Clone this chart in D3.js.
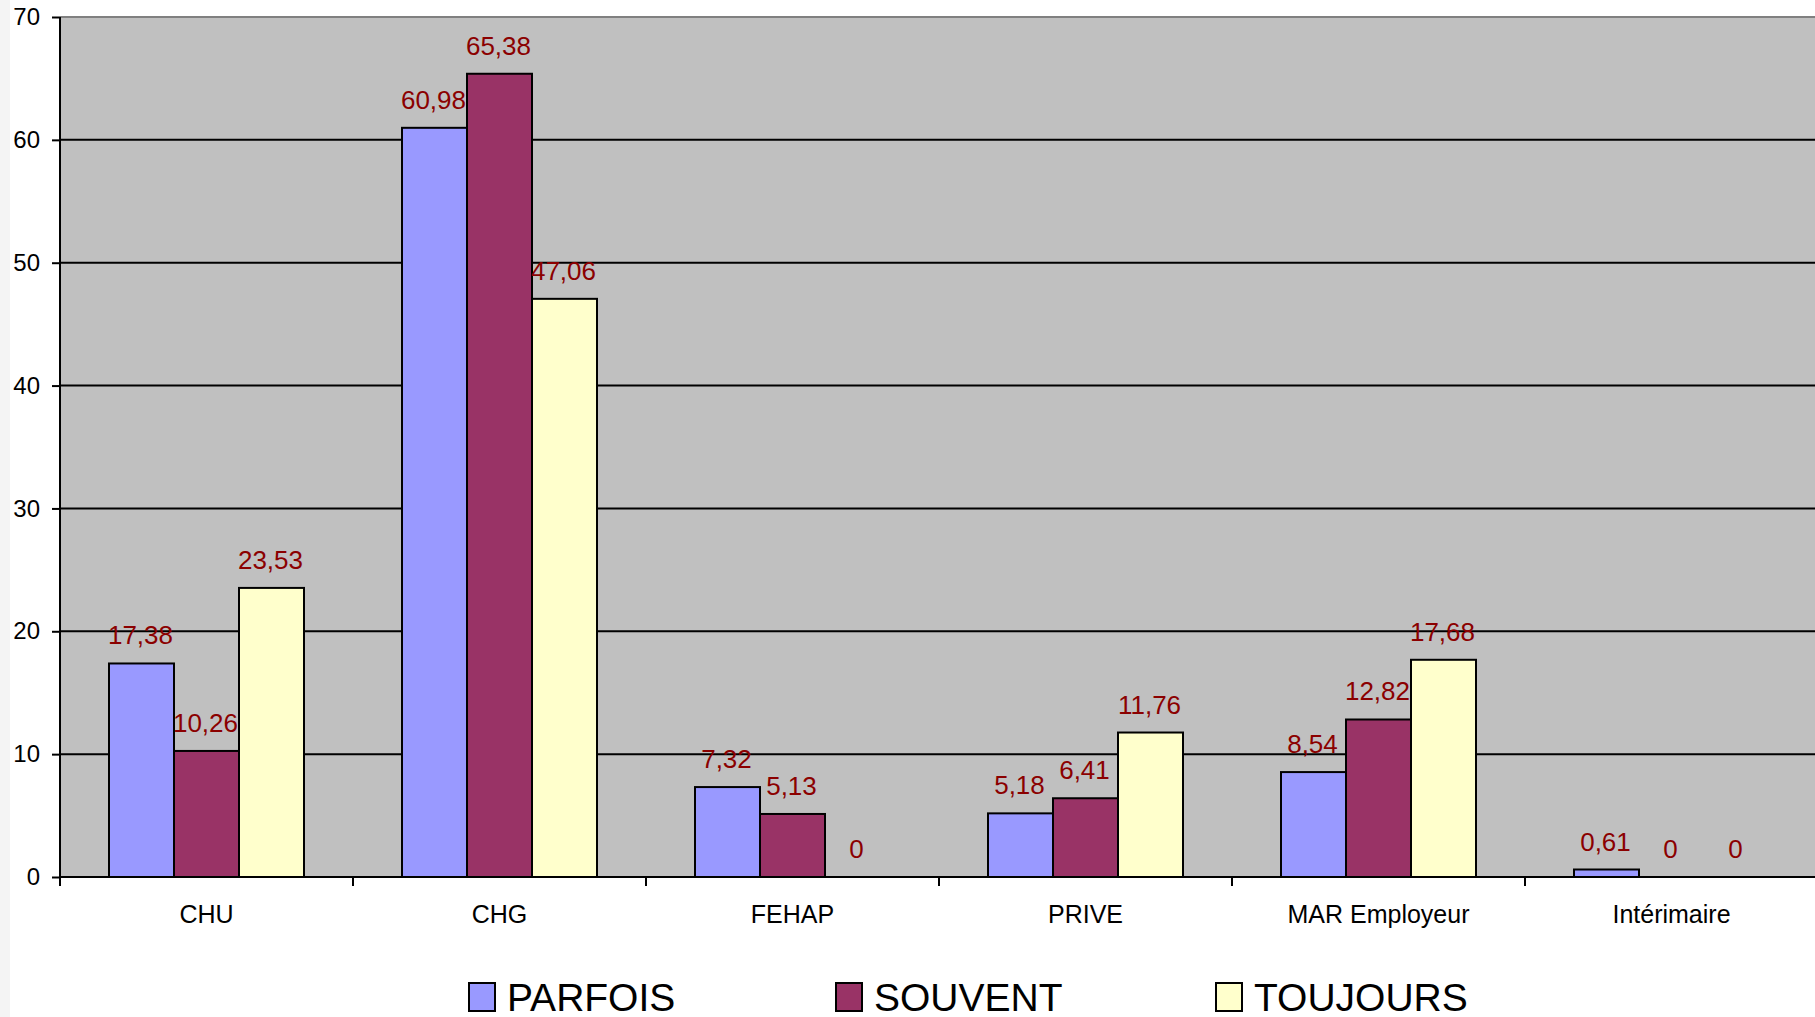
<!DOCTYPE html>
<html>
<head>
<meta charset="utf-8">
<script src="https://cdn.jsdelivr.net/npm/d3@7"></script>
<style>
  body { margin: 0; background: #fff; }
  svg { display: block; font-family: Arial, "Liberation Sans", sans-serif; }
</style>
</head>
<body>
<div id="chart"></div>
<script>
// categories and series
const categories = ["CHU", "CHG", "FEHAP", "PRIVE", "MAR Employeur", "Intérimaire"];
const seriesNames = ["PARFOIS", "SOUVENT", "TOUJOURS"];
const parfois = [17.38, 60.98, 7.32, 5.18, 8.54, 0.61];
const souvent = [10.26, 65.38, 5.13, 6.41, 12.82, 0];
const toujours = [23.53, 47.06, 0, 11.76, 17.68, 0];
const yTicks = [0, 10, 20, 30, 40, 50, 60, 70];
const colors = ["#9999FF", "#993366", "#FFFFCC"];

const svgWidth = 1815;
const svgHeight = 1017;
const margin = { top: 17, left: 60, bottom: 140 };
const plotRight = 1818;
const y0 = svgHeight - margin.bottom; // 877

const svg = d3.select("#chart")
  .append("svg")
  .attr("width", svgWidth)
  .attr("height", svgHeight);

// faint strip on the left edge
svg.append("rect").attr("x", 0).attr("y", 0).attr("width", 10).attr("height", svgHeight).attr("fill", "#f4f4f4");

const x = d3.scaleBand()
  .domain(categories)
  .range([margin.left, plotRight])
  .padding(0);

const x1 = d3.scaleBand()
  .domain(seriesNames)
  .range([49, x.bandwidth() - 49])
  .padding(0);

const y = d3.scaleLinear()
  .domain([0, 70])
  .range([y0, margin.top]);

// plot background
svg.append("rect")
  .attr("x", margin.left)
  .attr("y", margin.top)
  .attr("width", plotRight - margin.left)
  .attr("height", y0 - margin.top)
  .attr("fill", "#C0C0C0");

// gridlines
svg.append("g")
  .selectAll("line")
  .data(yTicks.filter(d => d > 0 && d < 70))
  .enter().append("line")
  .attr("x1", margin.left).attr("x2", plotRight)
  .attr("y1", d => y(d)).attr("y2", d => y(d))
  .attr("stroke", "#000").attr("stroke-width", 2);

// top border
svg.append("line")
  .attr("x1", margin.left).attr("x2", plotRight)
  .attr("y1", y(70)).attr("y2", y(70))
  .attr("stroke", "#808080").attr("stroke-width", 2);

// bars
const data = categories.map((c, i) => ({
  cat: c,
  values: [parfois[i], souvent[i], toujours[i]].map((v, j) => ({ series: seriesNames[j], value: v, color: colors[j] }))
}));

const groups = svg.append("g")
  .selectAll("g")
  .data(data)
  .enter().append("g")
  .attr("transform", d => `translate(${x(d.cat)},0)`);

groups.selectAll("rect")
  .data(d => d.values.filter(v => v.value > 0))
  .enter().append("rect")
  .attr("x", d => x1(d.series))
  .attr("y", d => y(d.value))
  .attr("width", x1.bandwidth())
  .attr("height", d => y0 - y(d.value))
  .attr("fill", d => d.color)
  .attr("stroke", "#000")
  .attr("stroke-width", 2);

// value labels
groups.selectAll("text")
  .data(d => d.values)
  .enter().append("text")
  .attr("x", d => x1(d.series) + x1.bandwidth() / 2 - 1)
  .attr("y", d => y(d.value) - 19)
  .attr("text-anchor", "middle")
  .attr("font-size", 26)
  .attr("fill", "#8B0000")
  .text(d => String(d.value).replace(".", ","));

// y axis
const yAxis = svg.append("g")
  .attr("transform", `translate(${margin.left},0)`)
  .call(d3.axisLeft(y).tickValues(yTicks).tickSize(8).tickPadding(12));
yAxis.select(".domain").attr("stroke", "#000").attr("stroke-width", 2).attr("d", `M0,${y(70)}V${y0}`);
yAxis.selectAll(".tick line").attr("stroke", "#000").attr("stroke-width", 2);
yAxis.selectAll(".tick text").attr("font-size", 24).attr("fill", "#000").attr("font-family", "Arial, 'Liberation Sans', sans-serif");

// x axis
svg.append("line")
  .attr("x1", margin.left).attr("x2", plotRight)
  .attr("y1", y0).attr("y2", y0)
  .attr("stroke", "#000").attr("stroke-width", 2);

svg.append("g")
  .selectAll("line")
  .data(categories)
  .enter().append("line")
  .attr("x1", d => x(d)).attr("x2", d => x(d))
  .attr("y1", y0).attr("y2", y0 + 9)
  .attr("stroke", "#000").attr("stroke-width", 2);

svg.append("g")
  .selectAll("text")
  .data(categories)
  .enter().append("text")
  .attr("x", d => x(d) + x.bandwidth() / 2)
  .attr("y", 923)
  .attr("text-anchor", "middle")
  .attr("font-size", 25)
  .attr("fill", "#000")
  .text(d => d);

// legend
const legendX = [469, 836, 1216];
const legend = svg.append("g")
  .selectAll("g")
  .data(seriesNames)
  .enter().append("g")
  .attr("transform", (d, i) => `translate(${legendX[i]},983)`);

legend.append("rect")
  .attr("width", 26).attr("height", 28)
  .attr("fill", (d, i) => colors[i])
  .attr("stroke", "#000").attr("stroke-width", 2);

legend.append("text")
  .attr("x", 38)
  .attr("y", 28)
  .attr("font-size", 39)
  .attr("fill", "#000")
  .text(d => d);
</script>
</body>
</html>
